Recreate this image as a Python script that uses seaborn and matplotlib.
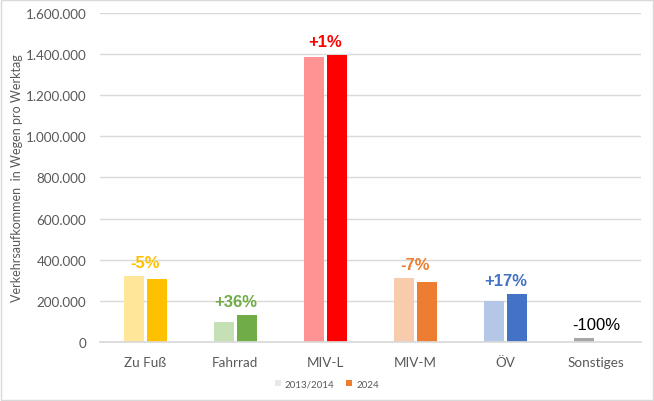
import matplotlib
matplotlib.use("Agg")
import matplotlib.pyplot as plt
import seaborn as sns
import pandas as pd
from matplotlib.patches import Rectangle, Patch
from matplotlib.ticker import FuncFormatter

categories = ["Zu Fuß", "Fahrrad", "MIV-L", "MIV-M", "ÖV", "Sonstiges"]
years = ["2013/2014", "2024"]
values_2013 = [321000, 97000, 1386000, 313000, 201000, 21000]
values_2024 = [305000, 131000, 1397000, 292000, 235000, 0]
change_labels = ["-5%", "+36%", "+1%", "-7%", "+17%", "-100%"]

light_colors = ["#FFE699", "#C5E0B4", "#FF9393", "#F8CBAD", "#B4C7E7", "#A6A6A6"]
dark_colors = ["#FFC000", "#70AD47", "#FF0000", "#ED7D31", "#4472C4", "#7F7F7F"]
label_colors = ["#FFC000", "#70AD47", "#FF0000", "#ED7D31", "#4472C4", "#000000"]
label_bold = [True, True, True, True, True, False]

df = pd.DataFrame({
    "Kategorie": categories * 2,
    "Jahr": [years[0]] * len(categories) + [years[1]] * len(categories),
    "Wert": values_2013 + values_2024,
})

sns.set_theme(style="white")
plt.rcParams["font.family"] = ["Lato", "DejaVu Sans"]

fig = plt.figure(figsize=(6.54, 4.02), dpi=100)
ax = fig.add_axes([0.153, 0.147, 0.827, 0.818])

sns.barplot(data=df, x="Kategorie", y="Wert", hue="Jahr", order=categories,
            hue_order=years, width=0.51, gap=0.13, ax=ax, legend=False,
            palette=["#cccccc", "#ED7D31"], saturation=1, errorbar=None)

# recolor bars per category
n = len(categories)
for i, p in enumerate(ax.patches[:2 * n]):
    if i < n:
        p.set_facecolor(light_colors[i])
    else:
        p.set_facecolor(dark_colors[i - n])
    p.set_edgecolor("none")

ax.set_ylim(0, 1600000)
ax.set_xlim(-0.5, n - 0.5)
ax.set_yticks(range(0, 1600001, 200000))
ax.yaxis.set_major_formatter(FuncFormatter(lambda v, _: f"{int(v):,}".replace(",", ".")))
ax.grid(axis="y", color="#D9D9D9", linewidth=1)
ax.set_axisbelow(True)
for s in ["top", "right", "left"]:
    ax.spines[s].set_visible(False)
ax.spines["bottom"].set_color("#D9D9D9")
ax.tick_params(axis="both", length=0, labelsize=9.7, colors="#595959", pad=10)
ax.tick_params(axis="x", pad=10)
ax.set_xlabel("")
ax.set_ylabel("Verkehrsaufkommen  in Wegen pro Werktag", fontsize=9, color="#595959")
ax.yaxis.set_label_coords(-0.142, 0.5)

for i in range(n):
    top = max(values_2013[i], values_2024[i])
    ax.annotate(change_labels[i], xy=(i, top), xytext=(0, 4), textcoords="offset points",
                ha="center", va="bottom", fontsize=12,
                fontweight="bold" if label_bold[i] else "normal",
                color=label_colors[i], family=["Liberation Sans", "DejaVu Sans"])

handles = [Patch(facecolor="#E8E8E8", edgecolor="none"), Patch(facecolor="#ED7D31", edgecolor="none")]
leg = fig.legend(handles, years, loc="center", bbox_to_anchor=(0.5, 0.042), ncol=2,
                 frameon=False, fontsize=7, handlelength=0.6, handleheight=0.6,
                 handletextpad=0.4, columnspacing=1.2)
for t in leg.get_texts():
    t.set_color("#595959")

fig.patches.append(Rectangle((0.002, 0.002), 0.996, 0.996, transform=fig.transFigure,
                             fill=False, edgecolor="#D9D9D9", linewidth=1))

fig.savefig("out.png", dpi=100, facecolor="white")
